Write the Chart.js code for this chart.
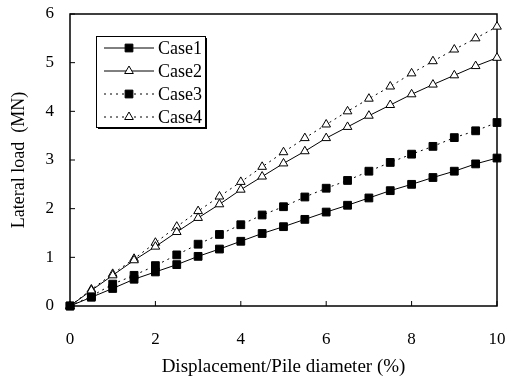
<!DOCTYPE html>
<html>
<head>
<meta charset="utf-8">
<script src="https://cdn.jsdelivr.net/npm/chart.js@4.4.0/dist/chart.umd.min.js"></script>
<style>
html, body { margin: 0; padding: 0; background: #fff; }
#wrap { width: 513px; height: 378px; }
</style>
</head>
<body>
<div id="wrap"><canvas id="chart"></canvas></div>
<script>
var displacement = [0, 0.5, 1, 1.5, 2, 2.5, 3, 3.5, 4, 4.5, 5, 5.5, 6, 6.5, 7, 7.5, 8, 8.5, 9, 9.5, 10];
var case1 = [0, 0.18, 0.36, 0.55, 0.70, 0.85, 1.02, 1.17, 1.33, 1.49, 1.63, 1.78, 1.93, 2.07, 2.22, 2.37, 2.50, 2.64, 2.77, 2.92, 3.04];
var case2 = [0, 0.32, 0.63, 0.94, 1.22, 1.52, 1.81, 2.09, 2.39, 2.66, 2.93, 3.18, 3.45, 3.68, 3.91, 4.13, 4.35, 4.55, 4.74, 4.93, 5.10];
var case3 = [0, 0.20, 0.45, 0.63, 0.83, 1.05, 1.27, 1.47, 1.67, 1.87, 2.04, 2.24, 2.42, 2.58, 2.77, 2.95, 3.12, 3.28, 3.46, 3.60, 3.77];
var case4 = [0, 0.34, 0.66, 0.97, 1.30, 1.63, 1.95, 2.25, 2.55, 2.86, 3.16, 3.45, 3.73, 4.00, 4.26, 4.51, 4.78, 5.03, 5.27, 5.50, 5.74];
var xTicks = [0, 2, 4, 6, 8, 10];
var yTicks = [0, 1, 2, 3, 4, 5, 6];

var serif = "'Liberation Serif', 'DejaVu Serif', serif";

function pts(ys) {
	return displacement.map(function(x, i) { return {x: x, y: ys[i]}; });
}

function makeSet(label, ys, style, filled, dotted) {
	return {
		label: label,
		data: pts(ys),
		borderColor: "#000",
		borderWidth: 1,
		borderDash: dotted ? [2, 4] : [],
		pointStyle: style,
		pointRadius: style == "rect" ? 5.5 : 5,
		pointBackgroundColor: filled ? "#000" : "#fff",
		pointBorderColor: "#000",
		pointBorderWidth: 1,
		tension: 0,
		clip: false
	};
}

// box round the plot and short ticks pointing inwards
var frame = {
	id: "frame",
	beforeDatasetsDraw: function(chart) {
		var ctx = chart.ctx, a = chart.chartArea;
		var xs = chart.scales.x, ys = chart.scales.y;
		ctx.save();
		ctx.strokeStyle = "#000";
		ctx.lineWidth = 1.5;
		ctx.strokeRect(a.left, a.top, a.right - a.left, a.bottom - a.top);
		ctx.lineWidth = 1;
		ctx.beginPath();
		xTicks.forEach(function(v) {
			var px = xs.getPixelForValue(v);
			ctx.moveTo(px, a.bottom);
			ctx.lineTo(px, a.bottom - 5);
		});
		yTicks.forEach(function(v) {
			var py = ys.getPixelForValue(v);
			ctx.moveTo(a.left, py);
			ctx.lineTo(a.left + 5, py);
		});
		ctx.stroke();
		ctx.restore();
	}
};

// legend box inside the plot, upper left
var boxLegend = {
	id: "boxLegend",
	afterDatasetsDraw: function(chart) {
		var ctx = chart.ctx;
		var bx = 96, by = 36, bw = 109, bh = 91;
		ctx.save();
		ctx.fillStyle = "#000";
		ctx.fillRect(bx + 2, by + 2, bw, bh);
		ctx.fillStyle = "#fff";
		ctx.fillRect(bx, by, bw, bh);
		ctx.strokeStyle = "#000";
		ctx.lineWidth = 1;
		ctx.strokeRect(bx + 0.5, by + 0.5, bw, bh);
		chart.data.datasets.forEach(function(ds, i) {
			var y = by + 12 + i * 23;
			ctx.strokeStyle = "#000";
			ctx.lineWidth = 1;
			ctx.setLineDash(ds.borderDash);
			ctx.beginPath();
			ctx.moveTo(bx + 8, y);
			ctx.lineTo(bx + 58, y);
			ctx.stroke();
			ctx.setLineDash([]);
			ctx.fillStyle = ds.pointBackgroundColor;
			ctx.strokeStyle = "#000";
			Chart.helpers.drawPoint(ctx, {pointStyle: ds.pointStyle, radius: ds.pointRadius, rotation: 0, borderWidth: 1}, bx + 33, y);
			ctx.fillStyle = "#000";
			ctx.font = "18px " + serif;
			ctx.textBaseline = "middle";
			ctx.fillText(ds.label, bx + 62, y + 1);
		});
		ctx.restore();
	}
};

new Chart(document.getElementById("chart"), {
	type: "line",
	data: {
		datasets: [
			makeSet("Case1", case1, "rect", true, false),
			makeSet("Case2", case2, "triangle", false, false),
			makeSet("Case3", case3, "rect", true, true),
			makeSet("Case4", case4, "triangle", false, true)
		]
	},
	options: {
		responsive: true,
		maintainAspectRatio: false,
		animation: false,
		layout: { padding: { left: 0, right: 16, top: 14, bottom: 0 } },
		plugins: {
			legend: { display: false },
			tooltip: { enabled: false }
		},
		scales: {
			x: {
				type: "linear",
				min: 0,
				max: 10,
				afterBuildTicks: function(s) { s.ticks = xTicks.map(function(v) { return {value: v}; }); },
				afterFit: function(s) { s.height = 72; s.paddingLeft = 0; s.paddingRight = 0; },
				grid: { display: false, drawTicks: false },
				border: { display: false },
				ticks: { color: "#000", padding: 23, maxRotation: 0, font: { family: serif, size: 17 } },
				title: {
					display: true,
					text: "Displacement/Pile diameter (%)",
					color: "#000",
					padding: { top: 0, bottom: 0 },
					font: { family: serif, size: 19 }
				}
			},
			y: {
				type: "linear",
				min: 0,
				max: 6,
				afterBuildTicks: function(s) { s.ticks = yTicks.map(function(v) { return {value: v}; }); },
				afterFit: function(s) { s.width = 70; s.paddingTop = 0; s.paddingBottom = 0; },
				grid: { display: false, drawTicks: false },
				border: { display: false },
				ticks: { color: "#000", padding: 16, font: { family: serif, size: 17 } },
				title: {
					display: true,
					text: "Lateral load  (MN)",
					color: "#000",
					padding: { top: 8, bottom: 0 },
					font: { family: serif, size: 18 }
				}
			}
		}
	},
	plugins: [frame, boxLegend]
});
</script>
</body>
</html>
